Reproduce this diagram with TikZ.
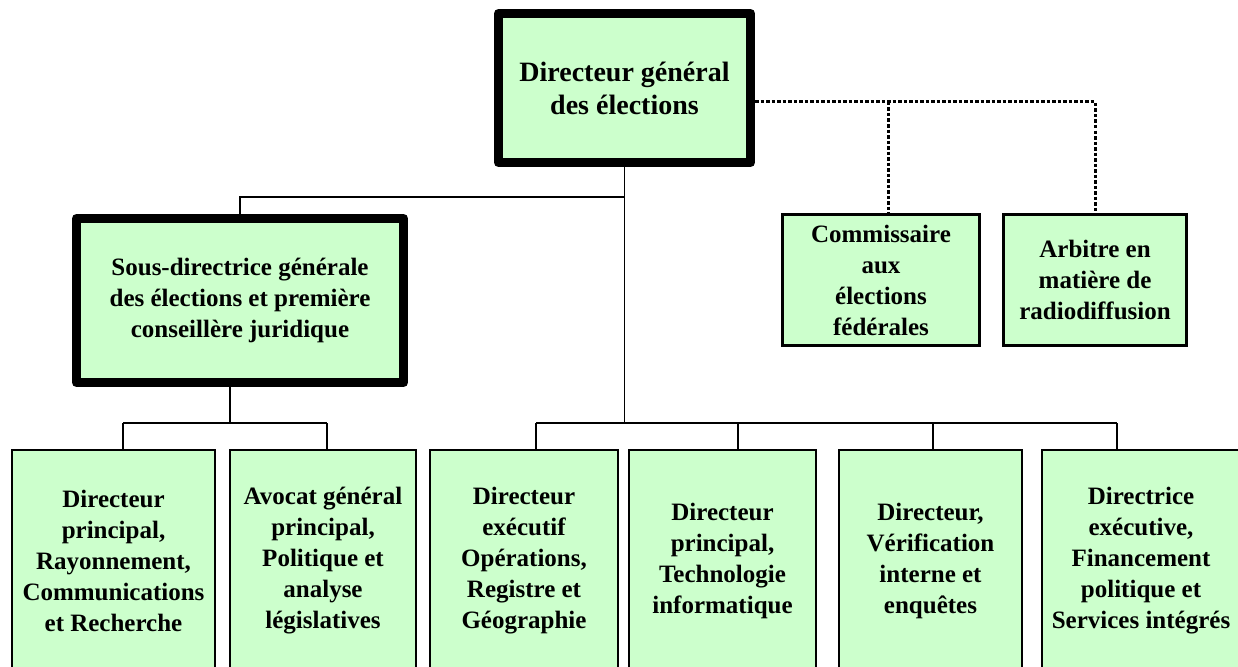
\documentclass[tikz,border=0pt]{standalone}
\usepackage{fontspec}
\setmainfont{Liberation Serif}
\usepackage{tikz}
\usetikzlibrary{shapes, arrows, positioning, calc}
\definecolor{boxgreen}{HTML}{CCFFCC}

\begin{document}
\begin{tikzpicture}[x=1pt, y=-1pt,
    unit/.style={draw, fill=boxgreen, align=center, inner sep=0pt,
        font=\bfseries\fontsize{25}{31}\selectfont},
    chief/.style={unit, line width=9pt, line join=round},
    advisor/.style={unit, line width=2.7pt},
    branch/.style={unit, line width=2pt, minimum height=222pt},
    link/.style={line width=1.8pt},
    dotlink/.style={line width=3pt, dash pattern=on 3.5pt off 2pt}]
    \useasboundingbox (0,0) rectangle (1238,666);

    % Head office
    \node[chief, minimum width=252pt, minimum height=149pt,
        font=\bfseries\fontsize{28}{33}\selectfont] (dge) at (624.5,88)
        {Directeur général\\des élections};
    \node[chief, minimum width=327pt, minimum height=164pt] (sdg) at (240,300.5)
        {Sous-directrice générale\\des élections et première\\conseillère juridique};

    % Independent offices
    \node[advisor, minimum width=197pt, minimum height=131pt] (cef) at (881,280)
        {Commissaire\\aux\\élections\\fédérales};
    \node[advisor, minimum width=183pt, minimum height=131pt] (arb) at (1095,280)
        {Arbitre en\\matière de\\radiodiffusion};

    % Sectors (they run off the bottom edge)
    \node[branch, minimum width=203pt] (b1) at (113.5,561)
        {Directeur\\principal,\\Rayonnement,\\Communications\\et Recherche};
    \node[branch, minimum width=186pt] (b2) at (323,561)
        {Avocat général\\principal,\\Politique et\\analyse\\législatives};
    \node[branch, minimum width=188pt] (b3) at (524,561)
        {Directeur\\exécutif\\Opérations,\\Registre et\\Géographie};
    \node[branch, minimum width=187pt] (b4) at (722.5,561)
        {Directeur\\principal,\\Technologie\\informatique};
    \node[branch, minimum width=183pt] (b5) at (930.5,561)
        {Directeur,\\Vérification\\interne et\\enquêtes};
    \node[branch, minimum width=198pt] (b6) at (1141,561)
        {Directrice\\exécutive,\\Financement\\politique et\\Services intégrés};

    % Junction points
    \coordinate (sdgJ) at (240,197);
    \coordinate (busM) at (624.5,423);
    \coordinate (busL) at (230,423);
    \coordinate (k1) at (123,423);
    \coordinate (k2) at (327,423);
    \coordinate (k3) at (536,423);
    \coordinate (k4) at (738,423);
    \coordinate (k5) at (933,423);
    \coordinate (k6) at (1117,423);
    \coordinate (dotC) at (888,102);
    \coordinate (dotA) at (1095,102);

    % Solid lines
    \draw[link] (dge.south) -- (busM);
    \draw[link] (dge.south |- sdgJ) -- (sdgJ) -- (sdg.north);
    \draw[link] (sdg.south -| busL) -- (busL);
    \draw[link] (k1) -- (k2);
    \draw[link] (k3) -- (k6);
    \foreach \kk/\bb in {k1/b1, k2/b2, k3/b3, k4/b4, k5/b5, k6/b6}
        \draw[link] (\kk) -- (\bb.north -| \kk);

    % Dotted lines
    \draw[dotlink] (dge.east |- dotA) -- (dotA) -- (arb.north);
    \draw[dotlink] (dotC) -- (cef.north -| dotC);
\end{tikzpicture}
\end{document}
